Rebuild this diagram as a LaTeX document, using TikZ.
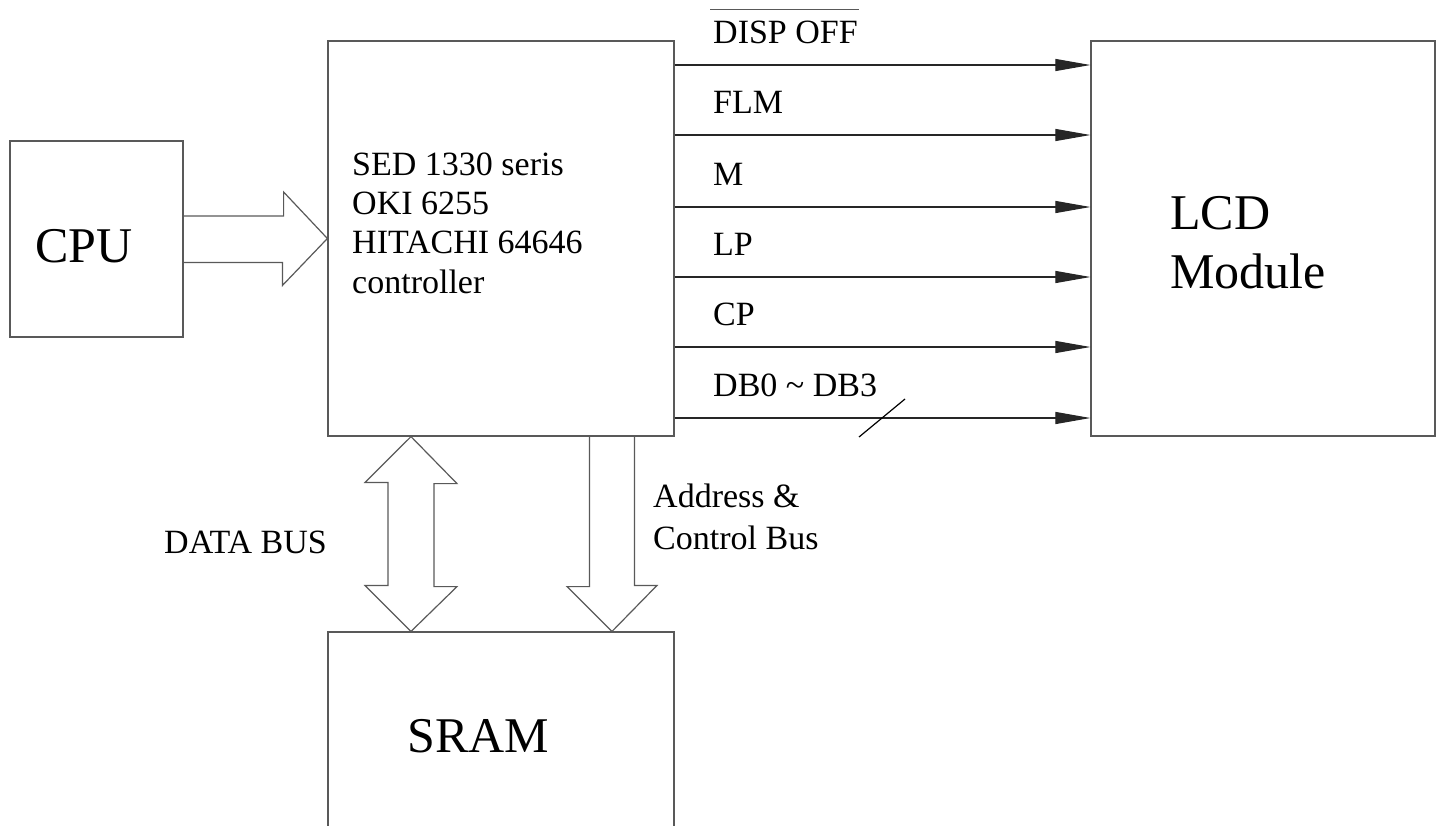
\documentclass[tikz,border=0pt]{standalone}
\usepackage{fontspec}
\setmainfont{Liberation Serif}
\usetikzlibrary{arrows.meta}
\begin{document}
\begin{tikzpicture}[x=1pt,y=-1pt,
        box/.style={draw=black!65,line width=1.2pt,inner sep=0pt},
        big/.style={font=\fontsize{50}{59}\selectfont,inner sep=0pt},
        small/.style={font=\fontsize{34}{40}\selectfont,inner sep=0pt},
        sigline/.style={draw=black!85,line width=1.1pt,-{Triangle[length=35pt,width=12pt]}},
        busline/.style={draw=black!65,line width=1.2pt}]
        \useasboundingbox (0,0) rectangle (1442,825);
        \clip (0,0) rectangle (1442,825);
        %% blocks
        \node[box,minimum width=173,minimum height=196] (cpu) at (96.5,239) {};
        \node[box,minimum width=346,minimum height=395] (ctl) at (501,238.5) {};
        \node[box,minimum width=344,minimum height=395] (lcd) at (1263,238.5) {};
        \node[box,minimum width=346,minimum height=250] (sram) at (501,757) {};
        %% block texts
        \node[big,anchor=base west] (cputxt) at (35,262) {CPU};
        \node[big,anchor=base west] (lcdtxt) at (1170,229) {LCD};
        \node[big,anchor=base west] (modtxt) at (1170,288) {Module};
        \node[big,anchor=base west] (sramtxt) at (407,752) {SRAM};
        \foreach \txt [count=\i] in {SED 1330 seris,OKI 6255,HITACHI 64646,controller}
            \node[small,anchor=base west] (ctl\i) at (352,136+39.3*\i) {\txt};
        %% signals to the module
        \foreach \sig/\yy [count=\i] in {DISP OFF/65,FLM/135,M/207,LP/277,CP/347,DB0 \textasciitilde{} DB3/418} {
            \coordinate (s\i) at (0,\yy);
            \draw[sigline] (ctl.east |- s\i) -- (lcd.west |- s\i);
            \node[small,anchor=base west] (sig\i) at (713,\yy-22) {\sig};
        }
        \draw[busline] ([xshift=-3pt,yshift=11pt]sig1.north west) -- ([xshift=1pt,yshift=11pt]sig1.north east);
        \coordinate (tick) at (882,418);
        \draw[line width=1.2pt] ([shift={(-23,19)}]tick) -- ([shift={(23,-19)}]tick);
        %% buses
        \draw[busline] (cpu.east) ++(0,-23) -- ++(100,0) -- ++(0,-24) -- (ctl.west) -- ++(-45,47) -- ++(0,-23) -- ++(-100,0);
        \coordinate (dtop) at ([xshift=-90pt]ctl.south);
        \draw[busline] (dtop) -- ++(46,47) -- ++(-23,0) -- ++(0,103) -- ++(23,0) -- (dtop |- sram.north)
            -- ++(-46,-46) -- ++(23,0) -- ++(0,-103) -- ++(-23,0) -- cycle;
        \coordinate (atop) at ([xshift=111pt]ctl.south);
        \draw[busline] ([xshift=-22.5pt]atop) -- ++(0,150) -- ++(-22.5,0) -- (atop |- sram.north) -- ++(45,-46) -- ++(-22.5,0) -- ++(0,-150);
        \node[small,anchor=base west] (dbus) at (164,553) {DATA BUS};
        \node[small,anchor=base west] (abus1) at (653,507) {Address \&};
        \node[small,anchor=base west] (abus2) at (653,549) {Control Bus};
    \end{tikzpicture}
\end{document}
